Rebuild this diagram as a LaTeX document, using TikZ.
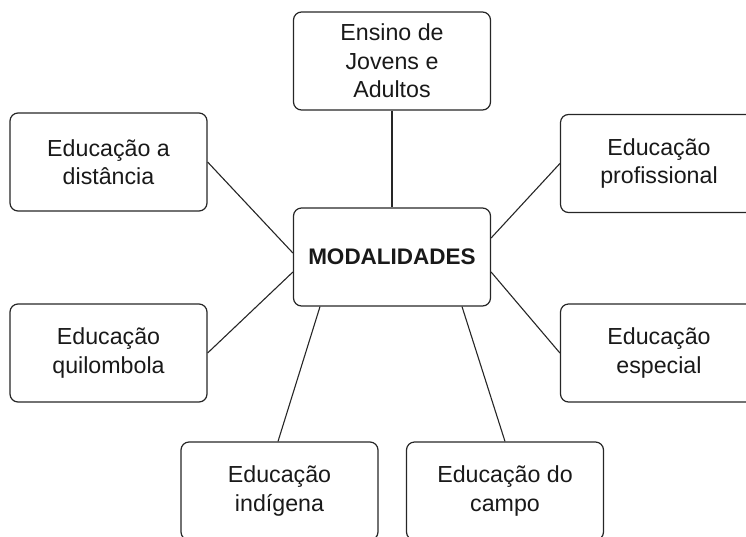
\documentclass[tikz,border=0pt]{standalone}
\usepackage{fontspec}
\setmainfont{Liberation Sans}
\begin{document}
\begin{tikzpicture}[x=1pt,y=1pt,
  box/.style={draw=black!85, line width=1.2pt, rounded corners=8pt, minimum width=197pt, minimum height=98pt, align=center, inner sep=0pt, font=\fontsize{23.2}{28.5}\selectfont, text=black!90},
  link/.style={draw=black!85, line width=1.1pt}]
\useasboundingbox (0,0) rectangle (746,-536);
\node[box] (ej) at (392,-61) {Ensino de\\Jovens e\\Adultos};
\node[box, font=\fontsize{22.5}{28.5}\selectfont\bfseries] (c) at (392,-257) {MODALIDADES};
\node[box] (ld) at (108.5,-162) {Educação a\\distância};
\node[box] (lq) at (108.5,-353) {Educação\\quilombola};
\node[box] (rp) at (659,-163.5) {Educação\\profissional};
\node[box] (re) at (659,-353) {Educação\\especial};
\node[box] (bi) at (279.5,-491) {Educação\\indígena};
\node[box] (bc) at (505,-491) {Educação do\\campo};
\draw[link] (ej.south) -- (c.north);
\draw[link] (ld.east) -- ([yshift=4pt]c.west);
\draw[link] (lq.east) -- ([yshift=-15pt]c.west);
\draw[link] (rp.west) -- ([yshift=19pt]c.east);
\draw[link] (re.west) -- ([yshift=-15pt]c.east);
\draw[link] ([xshift=-1.5pt]bi.north) -- ([xshift=-72pt]c.south);
\draw[link] (bc.north) -- ([xshift=70pt]c.south);
\end{tikzpicture}
\end{document}
